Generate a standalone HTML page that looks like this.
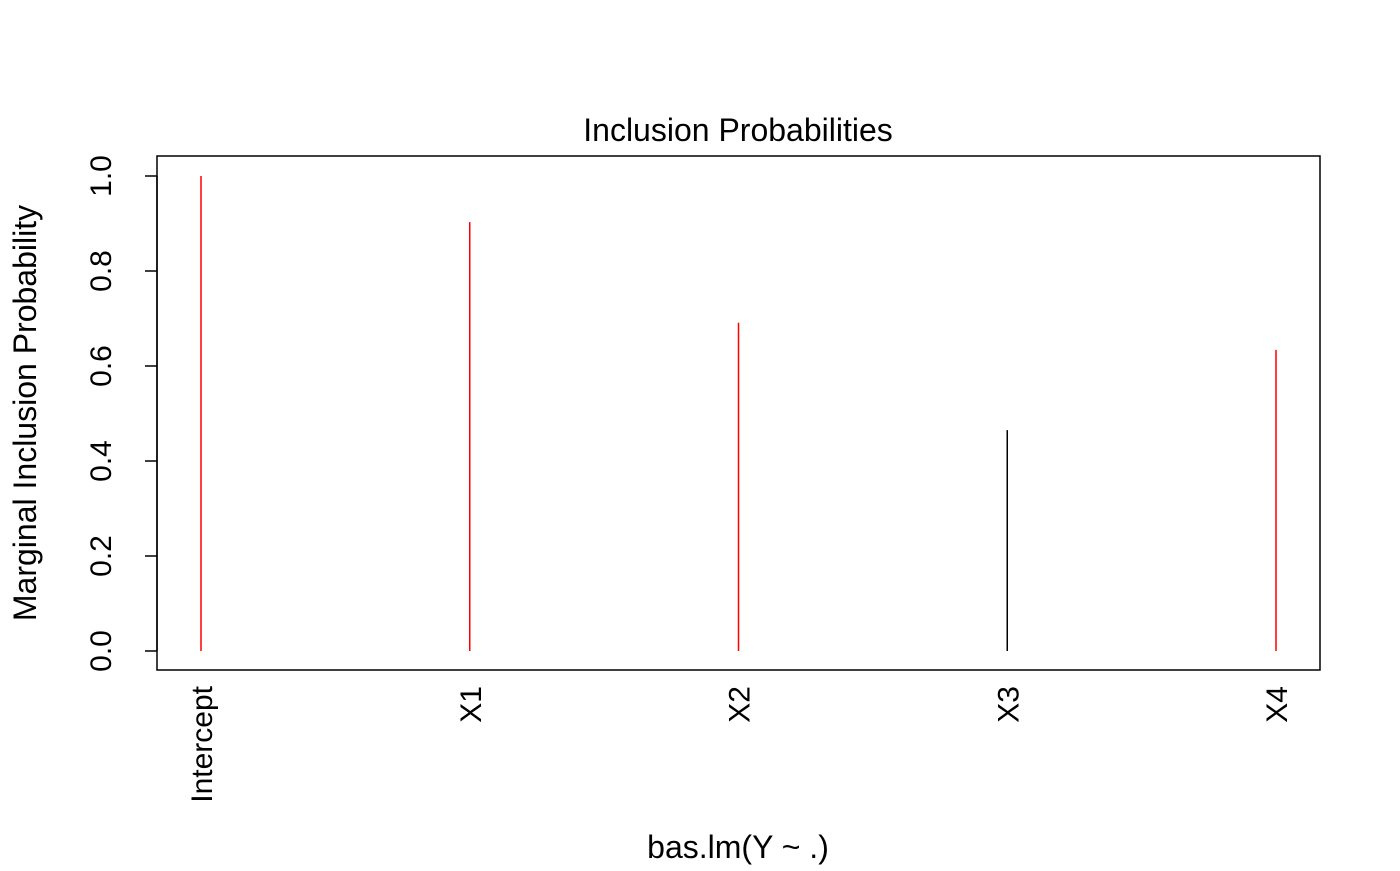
<!DOCTYPE html>
<html><head><meta charset="utf-8"><style>
body{margin:0;background:#fff}
svg text{font-family:"Liberation Sans",Arial,sans-serif;fill:#000}
</style></head><body>
<svg width="1400" height="866" viewBox="0 0 1400 866">
<text x="738" y="141" font-size="32" text-anchor="middle">Inclusion Probabilities</text>
<rect x="157" y="156" width="1163" height="514" fill="none" stroke="#000" stroke-width="1.5"/>
<text x="738" y="858" font-size="32" text-anchor="middle">bas.lm(Y ~ .)</text>
<text transform="translate(36,413) rotate(-90)" font-size="32" text-anchor="middle">Marginal Inclusion Probability</text>
<g id="marks"></g>
</svg>
<script>
const categories = ["Intercept","X1","X2","X3","X4"];
const probs = [1.0, 0.903, 0.691, 0.465, 0.634];
const colors = ["red","red","red","black","red"];
const yTicks = [0, 0.2, 0.4, 0.6, 0.8, 1.0];
const yTickLabels = ["0.0","0.2","0.4","0.6","0.8","1.0"];

const ns = "http://www.w3.org/2000/svg";
const g = document.getElementById("marks");
function xs(i){ return 201 + i*268.75; }
function ys(v){ return 651 - v*475; }
function mk(tag, attrs){ const e=document.createElementNS(ns,tag); for(const k in attrs) e.setAttribute(k,attrs[k]); g.appendChild(e); return e; }

const yAxis = mk("line",{x1:157,x2:157,y1:ys(0),y2:ys(1),stroke:"#000","stroke-width":1.5});


yTicks.forEach((v,i)=>{
  const t = mk("line",{x1:145,x2:157,y1:ys(v),y2:ys(v),stroke:"#000","stroke-width":1.5});
  
  
  const l = mk("text",{transform:`translate(111,${ys(v)}) rotate(-90)`,"font-size":30,"text-anchor":"middle"});
  l.textContent = yTickLabels[i];
  
  
});
categories.forEach((c,i)=>{
  const b = mk("line",{x1:xs(i),x2:xs(i),y1:ys(0),y2:ys(probs[i]),stroke:colors[i],"stroke-width":1.5});
  
  
  const l = mk("text",{transform:`translate(${xs(i)+11},686) rotate(-90)`,"font-size":30,"text-anchor":"end"});
  l.textContent = c;
  
  
});
</script>
</body></html>
